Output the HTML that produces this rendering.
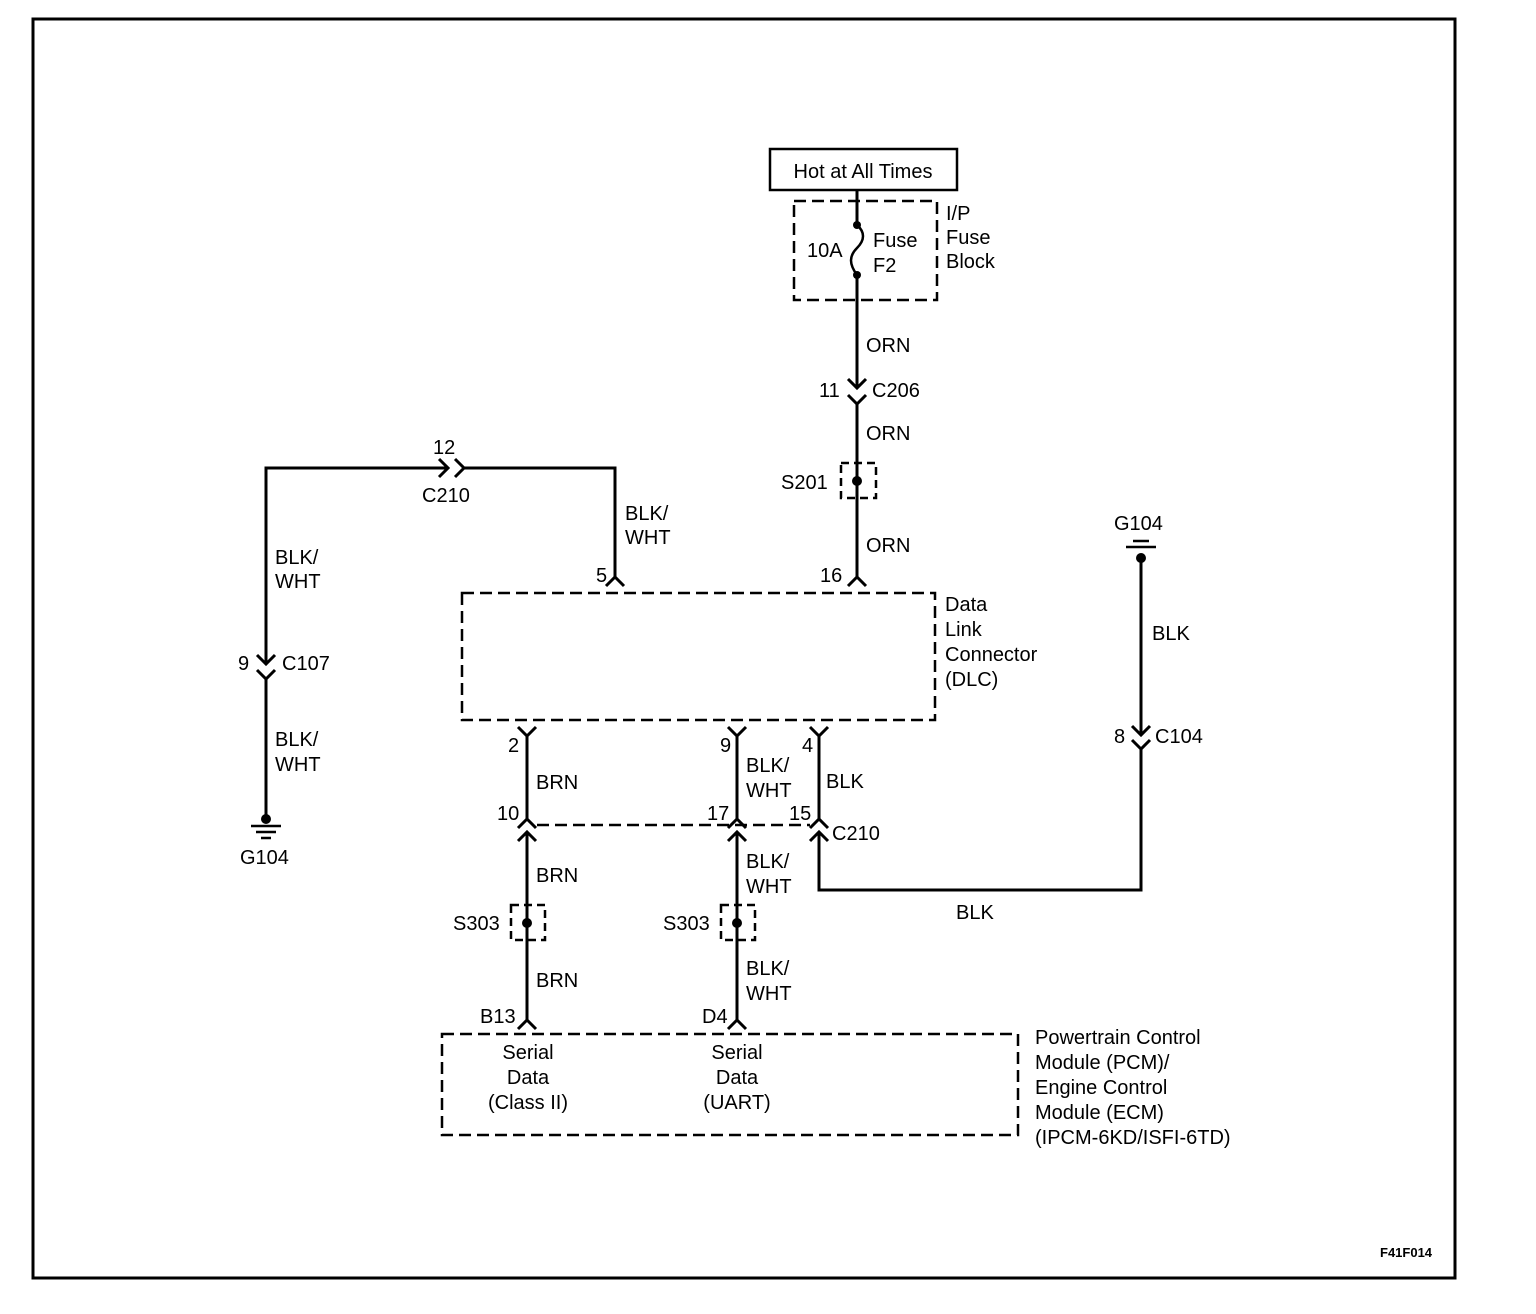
<!DOCTYPE html>
<html><head><meta charset="utf-8"><style>
html,body{margin:0;padding:0;background:#fff;}
svg{display:block;}
text{font-family:"Liberation Sans",sans-serif;font-size:20px;fill:#000;}
</style></head><body>
<svg width="1536" height="1314" viewBox="0 0 1536 1314" xmlns="http://www.w3.org/2000/svg">
<rect x="33" y="19" width="1422" height="1259" fill="none" stroke="#000" stroke-width="3"/>
<g fill="none" stroke="#000" stroke-width="3">
<rect x="770" y="149" width="187" height="41" stroke-width="2.5"/>
<rect x="794" y="201" width="143" height="99" stroke-dasharray="12,6" stroke-width="2.5"/>
<path d="M857 190 V225"/>
<path d="M857 225 C865 232,865 240,857 248 C849 256,849 264,857 275" stroke-width="2.5"/>
<path d="M857 275 V388"/>
<path d="M848 379 L857 388 L866 379"/>
<path d="M848 395 L857 404 L866 395"/>
<path d="M857 404 V577"/>
<path d="M848 586 L857 577 L866 586"/>
<rect x="841" y="463" width="35" height="35" stroke-dasharray="8,5" stroke-width="2.5"/>
<rect x="462" y="593" width="473" height="127" stroke-dasharray="12,6" stroke-width="2.5"/>
<path d="M606 586 L615 577 L624 586"/>
<path d="M615 577 V468 H463"/>
<path d="M455 459 L464 468 L455 477"/>
<path d="M439 459 L448 468 L439 477"/>
<path d="M448 468 H266 V664"/>
<path d="M257 655 L266 664 L275 655"/>
<path d="M257 670 L266 679 L275 670"/>
<path d="M266 679 V818"/>
<path d="M251 826 H281 M256 832 H276 M261 838 H271" stroke-width="2.5"/>
<path d="M518 727 L527 736 L536 727 M527 736 V819 M518 828 L527 819 L536 828"/>
<path d="M518 841 L527 832 L536 841 M527 832 V1020 M518 1029 L527 1020 L536 1029"/>
<path d="M728 727 L737 736 L746 727 M737 736 V819 M728 828 L737 819 L746 828"/>
<path d="M728 841 L737 832 L746 841 M737 832 V1020 M728 1029 L737 1020 L746 1029"/>
<path d="M810 727 L819 736 L828 727 M819 736 V819 M810 828 L819 819 L828 828"/>
<path d="M810 841 L819 832 L828 841 M819 832 V890 H1141 V749"/>
<path d="M1132 740 L1141 749 L1150 740"/>
<path d="M1132 726 L1141 735 L1150 726"/>
<path d="M1141 735 V558"/>
<path d="M1126 547 H1156 M1133 541 H1149" stroke-width="2.5"/>
<path d="M537 825 H810" stroke-dasharray="12,6" stroke-width="2.5"/>
<rect x="511" y="905" width="34" height="35" stroke-dasharray="8,5" stroke-width="2.5"/>
<rect x="721" y="905" width="34" height="35" stroke-dasharray="8,5" stroke-width="2.5"/>
<rect x="442" y="1034" width="576" height="101" stroke-dasharray="12,6" stroke-width="2.5"/>
</g>
<g fill="#000">
<circle cx="857" cy="225" r="4"/><circle cx="857" cy="275" r="4"/>
<circle cx="857" cy="481" r="5"/>
<circle cx="266" cy="819" r="5"/>
<circle cx="1141" cy="558" r="5"/>
<circle cx="527" cy="923" r="5"/><circle cx="737" cy="923" r="5"/>
</g>
<text x="863" y="178" text-anchor="middle">Hot at All Times</text>
<text x="807" y="257">10A</text>
<text x="873" y="247">Fuse</text>
<text x="873" y="272">F2</text>
<text x="946" y="220">I/P</text>
<text x="946" y="244">Fuse</text>
<text x="946" y="268">Block</text>
<text x="866" y="352">ORN</text>
<text x="819" y="397">11</text>
<text x="872" y="397">C206</text>
<text x="866" y="440">ORN</text>
<text x="781" y="489">S201</text>
<text x="866" y="552">ORN</text>
<text x="820" y="582">16</text>
<text x="945" y="611">Data</text>
<text x="945" y="636">Link</text>
<text x="945" y="661">Connector</text>
<text x="945" y="686">(DLC)</text>
<text x="433" y="454">12</text>
<text x="422" y="502">C210</text>
<text x="625" y="520">BLK/</text>
<text x="625" y="544">WHT</text>
<text x="596" y="582">5</text>
<text x="275" y="564">BLK/</text>
<text x="275" y="588">WHT</text>
<text x="238" y="670">9</text>
<text x="282" y="670">C107</text>
<text x="275" y="746">BLK/</text>
<text x="275" y="771">WHT</text>
<text x="240" y="864">G104</text>
<text x="1114" y="530">G104</text>
<text x="1152" y="640">BLK</text>
<text x="1114" y="743">8</text>
<text x="1155" y="743">C104</text>
<text x="508" y="752">2</text>
<text x="536" y="789">BRN</text>
<text x="497" y="820">10</text>
<text x="720" y="752">9</text>
<text x="746" y="772">BLK/</text>
<text x="746" y="797">WHT</text>
<text x="707" y="820">17</text>
<text x="802" y="752">4</text>
<text x="826" y="788">BLK</text>
<text x="789" y="820">15</text>
<text x="832" y="840">C210</text>
<text x="536" y="882">BRN</text>
<text x="746" y="868">BLK/</text>
<text x="746" y="893">WHT</text>
<text x="956" y="919">BLK</text>
<text x="453" y="930">S303</text>
<text x="663" y="930">S303</text>
<text x="536" y="987">BRN</text>
<text x="746" y="975">BLK/</text>
<text x="746" y="1000">WHT</text>
<text x="480" y="1023">B13</text>
<text x="702" y="1023">D4</text>
<text x="528" y="1059" text-anchor="middle">Serial</text>
<text x="528" y="1084" text-anchor="middle">Data</text>
<text x="528" y="1109" text-anchor="middle">(Class II)</text>
<text x="737" y="1059" text-anchor="middle">Serial</text>
<text x="737" y="1084" text-anchor="middle">Data</text>
<text x="737" y="1109" text-anchor="middle">(UART)</text>
<text x="1035" y="1044">Powertrain Control</text>
<text x="1035" y="1069">Module (PCM)/</text>
<text x="1035" y="1094">Engine Control</text>
<text x="1035" y="1119">Module (ECM)</text>
<text x="1035" y="1144">(IPCM-6KD/ISFI-6TD)</text>
<text x="1380" y="1257" style="font-size:13px;font-weight:bold">F41F014</text>
</svg>
</body></html>
